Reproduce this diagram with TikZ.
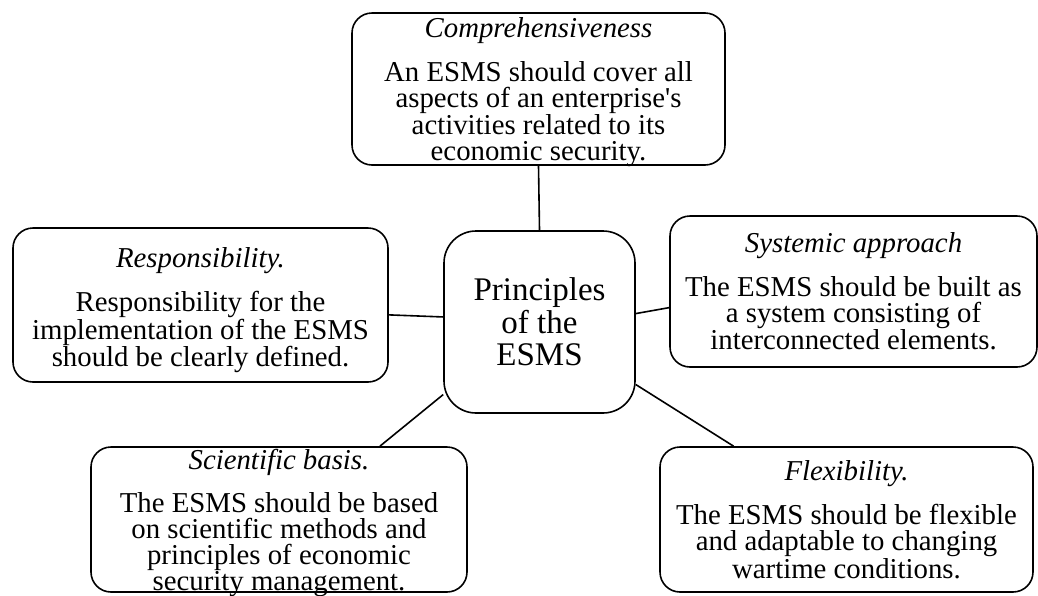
\documentclass[tikz,border=0pt]{standalone}
\usepackage{fontspec}
\setmainfont{Liberation Serif}[Ligatures=TeXOff]
\usepackage{tikz}

\begin{document}
\begin{tikzpicture}[
    x=1pt, y=-1pt,
    every node/.style={font=\fontsize{28.8}{26}\selectfont},
    box/.style={draw, rounded corners=20pt, line width=1.6pt, align=center, inner xsep=0pt, inner ysep=-10pt},
    hub/.style={draw, rounded corners=32pt, line width=1.6pt, align=center, minimum width=191pt, minimum height=182pt, font=\fontsize{33}{32.5}\selectfont},
    link/.style={line width=1.6pt}
]
    \useasboundingbox (0,0) rectangle (1038,595);

    % Central node
    \node[hub] (esms) at (539.5, 322) {Principles\\of the\\ESMS};

    % Principles
    \node[box, minimum width=373pt, minimum height=152pt] (compr) at (538.5, 89)
        {\rule{0pt}{26pt}\textit{Comprehensiveness}\\[17pt]An ESMS should cover all\\aspects of an enterprise's\\activities related to its\\economic security.};
    \node[box, minimum width=375pt, minimum height=154pt] (resp) at (200.5, 305)
        {\rule{0pt}{30pt}\textit{Responsibility.}\\[17pt]Responsibility for the\\implementation of the ESMS\\should be clearly defined.};
    \node[box, minimum width=367pt, minimum height=151pt] (syst) at (853.5, 291.5)
        {\textit{Systemic approach}\\[17pt]The ESMS should be built as\\a system consisting of\\interconnected elements.};
    \node[box, minimum width=376pt, minimum height=145pt] (scien) at (279, 519.5)
        {\rule{0pt}{27pt}\textit{Scientific basis.}\\[16pt]The ESMS should be based\\on scientific methods and\\principles of economic\\security management.};
    \node[box, minimum width=373pt, minimum height=145pt] (flex) at (846.5, 519.5)
        {\textit{Flexibility.}\\[17pt]The ESMS should be flexible\\and adaptable to changing\\wartime conditions.};

    % Links
    \draw[link] (compr.south) -- (esms.north);
    \draw[link] (resp.-3.7) -- (esms.177.6);
    \draw[link] (esms.5.4) -- (syst.185.1);
    \draw[link] (esms.217.3) -- (scien.36.5);
    \draw[link] (esms.-33) -- (flex.147.7);
\end{tikzpicture}
\end{document}
